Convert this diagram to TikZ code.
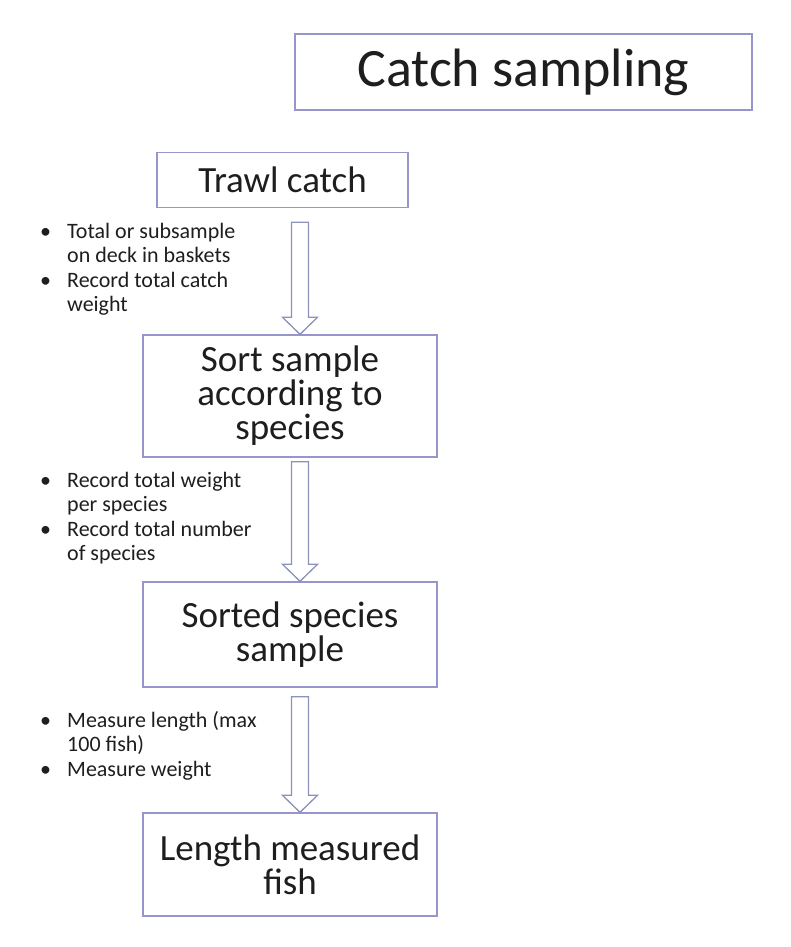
\documentclass[tikz,border=0pt]{standalone}
\usepackage{fontspec}
\setmainfont{Carlito}
\usetikzlibrary{calc, positioning}

\definecolor{boxline}{RGB}{150,150,205}
\definecolor{arrline}{RGB}{140,146,185}
\definecolor{inktext}{RGB}{30,30,30}

\tikzset{
  stepbox/.style={draw=boxline, line width=1.4pt, fill=white, align=center,
    inner sep=0pt, text=inktext, font=\fontsize{37}{34}\selectfont},
  notes/.style={anchor=north west, inner sep=0pt, text=inktext,
    font=\fontsize{22}{24.5}\selectfont},
  hollow/.style={draw=arrline, line width=1.3pt, fill=white, line join=miter}
}

% hollow block arrow: from box, to box, gap below the first box
\newcommand{\flowarrow}[3]{%
  \draw[hollow] let \p1=(#1.south), \p2=(#2.north) in
    (\x2+10pt,\y2) -- (\x2+27.5pt,\y2+17pt) -- (\x2+18.5pt,\y2+17pt)
    -- (\x2+18.5pt,\y1-#3) -- (\x2+1.5pt,\y1-#3) -- (\x2+1.5pt,\y2+17pt)
    -- (\x2-7.5pt,\y2+17pt) -- cycle;
}

\begin{document}
\begin{tikzpicture}[x=1pt, y=-1pt]
    \useasboundingbox (0,0) rectangle (790,947);
    % Title
    \node[stepbox, minimum width=457, minimum height=76,
          font=\fontsize{54}{54}\selectfont] (title) at (523.5,72) {Catch sampling};
    % Flow boxes
    \node[stepbox, minimum width=251, minimum height=55] (trawl) at (282.5,180) {Trawl catch};
    \node[stepbox, minimum width=294, minimum height=122] (sortbox) at (290,396)
        {Sort sample\\according to\\species};
    \node[stepbox, minimum width=294, minimum height=105] (sorted) at (290,634.5)
        {Sorted species\\sample};
    \node[stepbox, minimum width=294, minimum height=103] (lengthfish) at (290,864.5)
        {Length measured\\fish};
    % Arrows
    \flowarrow{trawl}{sortbox}{14pt}
    \flowarrow{sortbox}{sorted}{4pt}
    \flowarrow{sorted}{lengthfish}{9pt}
    % Notes
    \node[notes] (note1) at (40,221) {\begin{tabular}{@{}p{27pt}@{}l@{}}
        \textbullet & Total or subsample\\
                    & on deck in baskets\\
        \textbullet & Record total catch\\
                    & weight
    \end{tabular}};
    \node[notes] (note2) at (40,470) {\begin{tabular}{@{}p{27pt}@{}l@{}}
        \textbullet & Record total weight\\
                    & per species\\
        \textbullet & Record total number\\
                    & of species
    \end{tabular}};
    \node[notes] (note3) at (40,710) {\begin{tabular}{@{}p{27pt}@{}l@{}}
        \textbullet & Measure length (max\\
                    & 100 fish)\\
        \textbullet & Measure weight
    \end{tabular}};
\end{tikzpicture}
\end{document}
